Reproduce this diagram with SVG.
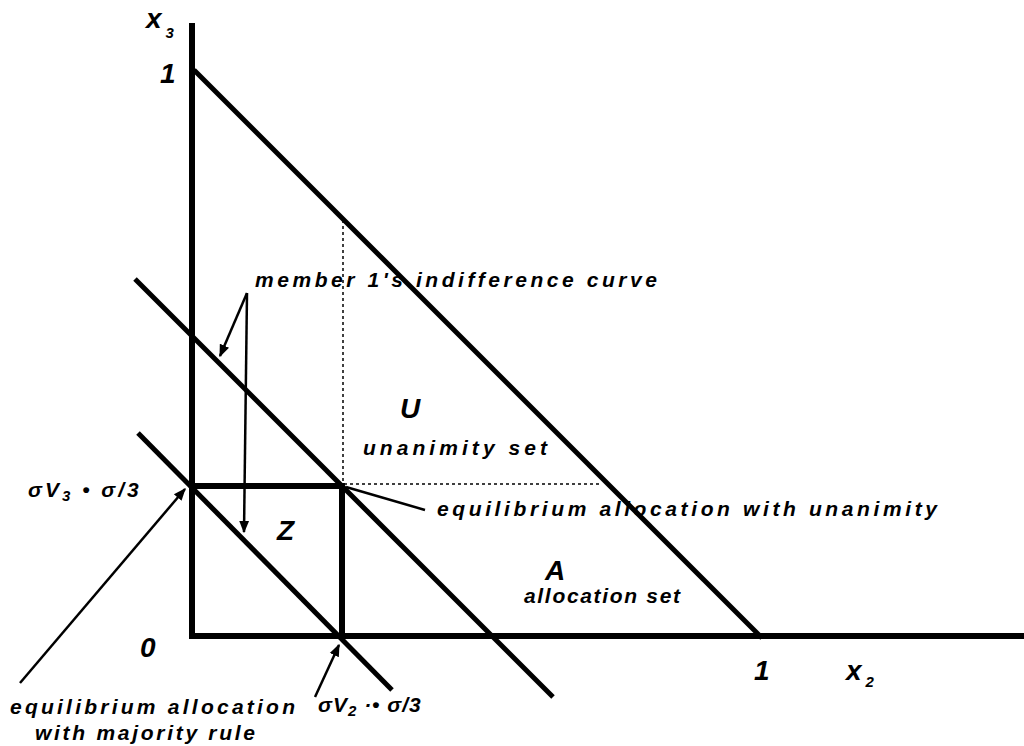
<svg xmlns="http://www.w3.org/2000/svg" width="1024" height="746" viewBox="0 0 1024 746">
<style>
.t{font-family:"Liberation Sans",Arial,sans-serif;font-weight:bold;font-style:italic;font-size:21px;fill:#000}
.big{font-family:"Liberation Sans",Arial,sans-serif;font-weight:bold;font-style:italic;font-size:28px;fill:#000}
.sub{font-size:15px}
.thick{stroke:#000;stroke-width:6;fill:none;stroke-linecap:butt}
.line{stroke:#000;stroke-width:5;fill:none}
.dot{stroke:#000;stroke-width:1.5;stroke-dasharray:3 3;fill:none}
.ptr{stroke:#000;stroke-width:2.5;fill:none}
</style>
<defs>
<marker id="ah" viewBox="0 0 10 10" refX="9" refY="5" markerWidth="5" markerHeight="5" orient="auto" markerUnits="strokeWidth">
<path d="M0,1 L10,5 L0,9 z" fill="#000"/>
</marker>
</defs>
<rect width="1024" height="746" fill="#fff"/>
<g id="axes">
<line class="thick" x1="192" y1="23" x2="192" y2="639"/>
<line class="thick" x1="189" y1="636" x2="1024" y2="636"/>
</g>
<g id="allocation-boundary">
<line class="line" x1="194" y1="70" x2="762" y2="638"/>
</g>
<g id="indifference-curves">
<line class="line" x1="135" y1="279" x2="553" y2="697"/>
<line class="line" x1="138" y1="433" x2="392" y2="690"/>
</g>
<g id="Z-box">
<line class="thick" x1="192" y1="486" x2="344" y2="486"/>
<line class="thick" x1="342" y1="483" x2="342" y2="636"/>
</g>
<g id="dotted">
<line class="dot" x1="343" y1="220" x2="343" y2="484"/>
<line class="dot" x1="344" y1="484" x2="602" y2="484"/>
</g>
<g id="connectors">
<line class="ptr" x1="247" y1="293" x2="220" y2="356" marker-end="url(#ah)"/>
<line class="ptr" x1="247" y1="293" x2="244" y2="532" marker-end="url(#ah)"/>
<line class="ptr" x1="346" y1="487" x2="425" y2="510"/>
<line class="ptr" x1="20" y1="683" x2="185" y2="489" marker-end="url(#ah)"/>
<line class="ptr" x1="315" y1="697" x2="339" y2="645" marker-end="url(#ah)"/>
</g>
<g id="labels">
<text class="big" x="146" y="28">x<tspan class="sub" dx="4" dy="10">3</tspan></text>
<text class="big" x="160" y="83">1</text>
<text class="big" x="140" y="657">0</text>
<text class="big" x="754" y="680">1</text>
<text class="big" x="846" y="680">x<tspan class="sub" dx="4" dy="7">2</tspan></text>
<text class="t" x="255" y="287" textLength="402" lengthAdjust="spacing">member 1's indifference curve</text>
<text class="big" x="400" y="418">U</text>
<text class="t" x="363" y="455" textLength="184" lengthAdjust="spacing">unanimity set</text>
<text class="t" x="28" y="497" letter-spacing="3">σV<tspan class="sub" dy="4">3</tspan><tspan dy="-4"> • σ/3</tspan></text>
<text class="t" x="437" y="516" textLength="500" lengthAdjust="spacing">equilibrium allocation with unanimity</text>
<text class="big" x="277" y="540">Z</text>
<text class="big" x="545" y="580">A</text>
<text class="t" x="524" y="603" textLength="156" lengthAdjust="spacing">allocation set</text>
<text class="t" x="10" y="714" textLength="285" lengthAdjust="spacing">equilibrium allocation</text>
<text class="t" x="35" y="740" textLength="220" lengthAdjust="spacing">with majority rule</text>
<text class="t" x="318" y="712" letter-spacing="1">σV<tspan class="sub" dy="4">2</tspan><tspan dy="-4"> ·• σ/3</tspan></text>
</g>
</svg>
